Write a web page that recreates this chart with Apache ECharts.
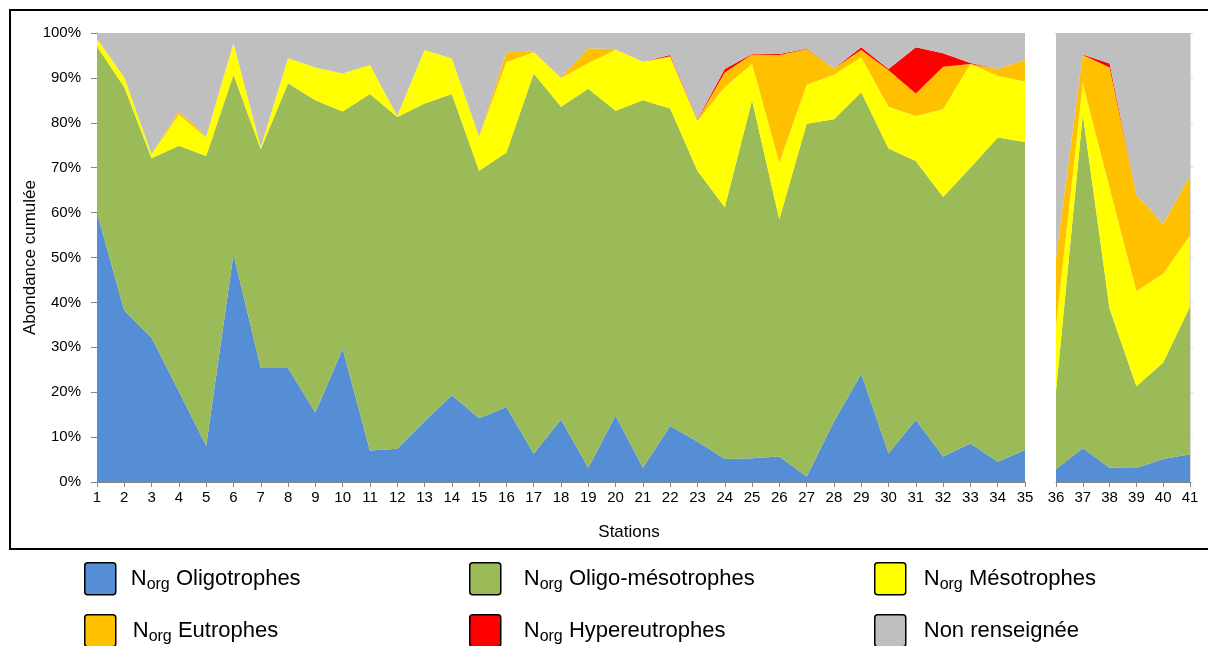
<!DOCTYPE html>
<html><head><meta charset="utf-8">
<script src="https://cdn.jsdelivr.net/npm/echarts@6/dist/echarts.min.js"></script>
<style>html,body{margin:0;padding:0;background:#fff}#c{width:1208px;height:646px}</style>
</head><body><div id="c"></div>
<script>
const stations = ['1','2','3','4','5','6','7','8','9','10','11','12','13','14','15','16','17','18','19','20','21','22','23','24','25','26','27','28','29','30','31','32','33','34','35','36','37','38','39','40','41'];
const yTicks = [0,10,20,30,40,50,60,70,80,90,100];
const seriesNames = ['Norg Oligotrophes','Norg Oligo-mésotrophes','Norg Mésotrophes','Norg Eutrophes','Norg Hypereutrophes','Non renseignée'];
const oligotrophes = [60.0,38.2,32.1,20.2,8.1,50.7,25.4,25.4,15.5,29.7,7.0,7.4,13.5,19.3,14.2,16.7,6.3,13.9,3.2,14.8,3.2,12.5,9.0,5.1,5.3,5.7,1.2,13.5,24.1,6.4,13.8,5.7,8.6,4.5,7.1,2.9,7.5,3.2,3.1,5.1,6.2];
const oligoMesotrophes = [37.0,49.7,40.0,54.7,64.5,40.0,48.7,63.4,69.5,52.8,79.4,73.9,70.8,67.1,55.1,56.7,84.7,69.7,84.4,67.9,81.8,70.7,60.3,56.1,79.7,52.8,78.6,67.3,62.7,67.9,57.7,57.8,61.4,72.2,68.6,17.3,74.4,35.4,18.2,21.5,32.9];
const mesotrophes = [1.7,2.2,0.9,6.9,4.1,7.0,0.5,5.6,7.3,8.5,6.5,0.2,11.9,7.9,7.6,20.1,4.7,6.3,5.7,13.5,8.6,11.4,11.1,26.8,8.1,12.6,8.7,9.9,7.8,9.3,10.0,19.5,23.1,13.8,13.5,14.5,6.9,26.9,21.2,19.8,15.8];
const eutrophes = [0,0,0,0.7,0.3,0,0,0,0,0,0,0,0,0,0,2.2,0.1,0.2,3.3,0.2,0,0.2,0.2,3.2,2.1,24.0,7.9,1.4,1.6,8.1,5.0,9.5,0,1.5,4.8,15.2,6.3,26.8,21.4,11.1,13.3];
const hypereutrophes = [0,0,0,0,0,0,0,0,0,0,0,0,0,0,0,0,0,0,0,0,0,0.3,0.2,0.8,0.1,0.2,0.1,0,0.6,0.3,10.3,3.0,0.2,0,0,0,0.1,0.9,0,0,0];
const nonRenseignee = [1.3,9.9,27.0,17.5,23.0,2.3,25.4,5.6,7.7,9.0,7.1,18.5,3.8,5.7,23.1,4.3,4.2,9.9,3.4,3.6,6.4,4.9,19.2,8.0,4.7,4.7,3.5,7.9,3.2,8.0,3.2,4.5,6.7,8.0,6.0,50.1,4.8,6.8,36.1,42.5,31.8];
const colors = ['#558ED5','#9BBB59','#FFFF00','#FFC000','#FF0000','#BFBFBF'];
const splitAt = 35;

const allData = [oligotrophes, oligoMesotrophes, mesotrophes, eutrophes, hypereutrophes, nonRenseignee];
const FONT = 'Liberation Sans, Arial, sans-serif';
const AX = '#868686';

const series = [];
[0,1].forEach(gi => {
  allData.forEach((arr, i) => {
    series.push({
      type:'line', name: seriesNames[i], xAxisIndex: gi, yAxisIndex: gi,
      stack: 'g' + gi, symbol:'none', silent:true,
      data: gi === 0 ? arr.slice(0, splitAt) : arr.slice(splitAt),
      lineStyle:{width:0}, itemStyle:{color:colors[i]},
      areaStyle:{color:colors[i], opacity:1},
      emphasis:{disabled:true}
    });
  });
});

const ICON = 'path://M3,0 H28 Q31,0 31,3 V29 Q31,32 28,32 H3 Q0,32 0,29 V3 Q0,0 3,0 Z';
function fmt(n){ return n.indexOf('Norg ') === 0 ? 'N{s|org} ' + n.slice(5) : n; }
function lg(idx, left, top, gap){
  return {
    data:[seriesNames[idx]], left:left, top:top, padding:0, icon:ICON,
    itemWidth:31, itemHeight:32, selectedMode:false, formatter:fmt,
    itemStyle:{borderColor:'#000', borderWidth:1.5},
    textStyle:{fontSize:22, fontFamily:FONT, color:'#000', lineHeight:27, padding:[0,0,0,gap],
      rich:{s:{fontSize:16, fontFamily:FONT, color:'#000', lineHeight:13, verticalAlign:'bottom'}}}
  };
}

function xAx(gi, data){
  return {gridIndex:gi, type:'category', boundaryGap:false, data:data,
    axisLine:{show:true, lineStyle:{color:AX}},
    axisTick:{show:true, interval:0, length:5, lineStyle:{color:AX}},
    axisLabel:{interval:0, fontSize:15, fontFamily:FONT, color:'#000', margin:8},
    splitLine:{show:false}};
}

const option = {
  animation:false,
  grid:[
    {left:97, top:33, width:928, height:449},
    {left:1056, top:33, width:134, height:449}
  ],
  xAxis:[
    xAx(0, stations.slice(0, splitAt)),
    xAx(1, stations.slice(splitAt)),
    {gridIndex:1, type:'category', position:'top', boundaryGap:false, data:stations.slice(splitAt),
      axisLine:{show:true, lineStyle:{color:AX}}, axisTick:{show:false}, axisLabel:{show:false}}
  ],
  yAxis:[
    {gridIndex:0, type:'value', min:yTicks[0], max:yTicks[yTicks.length-1], interval:yTicks[1]-yTicks[0],
      axisLine:{show:true, lineStyle:{color:AX}}, axisTick:{show:true, length:6, lineStyle:{color:AX}},
      axisLabel:{formatter:'{value}%', fontSize:15, fontFamily:FONT, color:'#000', margin:16},
      splitLine:{show:false},
      name:'Abondance cumulée', nameLocation:'middle', nameGap:58, nameMoveOverlap:false,
      nameTextStyle:{fontSize:17, fontFamily:FONT, color:'#000'}},
    {gridIndex:1, type:'value', position:'right', min:yTicks[0], max:yTicks[yTicks.length-1], interval:yTicks[1]-yTicks[0],
      axisLine:{show:true, lineStyle:{color:'#d9d9d9'}}, axisTick:{show:true, length:3, lineStyle:{color:'#d9d9d9'}},
      axisLabel:{show:false}, splitLine:{show:false}}
  ],
  legend:[
    lg(0, 84, 562, 10), lg(1, 469, 562, 18), lg(2, 874, 562, 13),
    lg(3, 84, 614, 12), lg(4, 469, 614, 18), lg(5, 874, 614, 13)
  ],
  graphic:[
    {type:'rect', shape:{x:10, y:10, width:1206, height:539}, style:{fill:'none', stroke:'#000', lineWidth:2}, silent:true},
    {type:'text', x:629, y:532, style:{text:'Stations', font:'17px ' + FONT, fill:'#000', textAlign:'center', textVerticalAlign:'middle'}, silent:true}
  ],
  series: series
};
echarts.init(document.getElementById('c')).setOption(option);
</script></body></html>
